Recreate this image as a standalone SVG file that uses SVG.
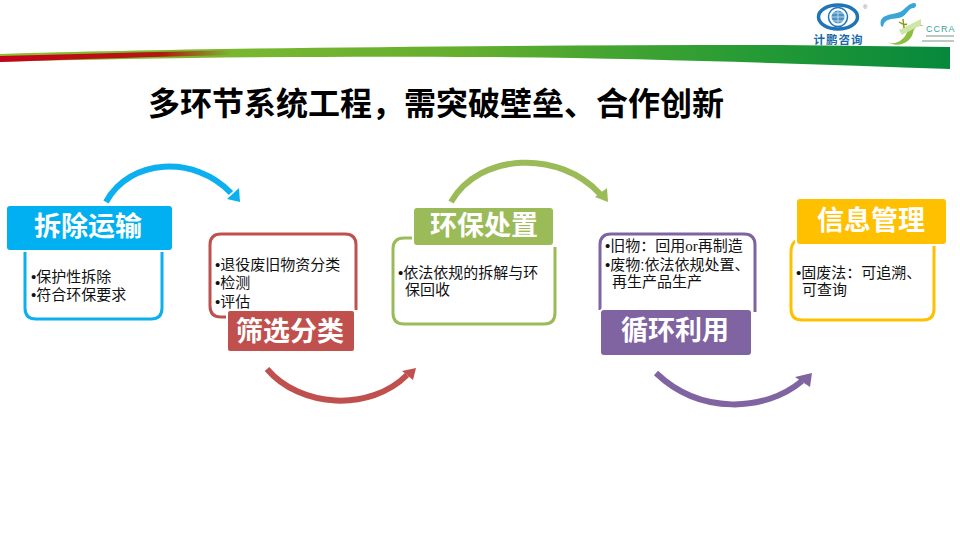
<svg xmlns="http://www.w3.org/2000/svg" width="960" height="540" viewBox="0 0 960 540">
<style>
text{font-family:"Liberation Sans","Noto Sans CJK SC",sans-serif}
.t{font-size:32px;font-weight:700;fill:#000;font-family:"Noto Sans CJK SC",sans-serif}
.h{font-size:27px;font-weight:700;fill:#fff;text-anchor:middle;font-family:"Noto Sans CJK SC",sans-serif}
.b{font-size:15px;fill:#111}
.box{fill:#fff;stroke-width:3}
.hd{stroke:#fff;stroke-width:2}
.arc{fill:none;stroke-width:6}
</style>
<defs>
<linearGradient id="g" x1="0" x2="1" y1="0" y2="0"><stop offset="0" stop-color="#8fc031"/><stop offset=".5" stop-color="#62ae2e"/><stop offset=".8" stop-color="#249a35"/><stop offset="1" stop-color="#06883c"/></linearGradient>
<linearGradient id="r" x1="0" x2="1" y1="0" y2="0"><stop offset="0" stop-color="#c8001e"/><stop offset=".7" stop-color="#b01a10"/><stop offset="1" stop-color="#b01a10" stop-opacity="0"/></linearGradient>
</defs>
<g id="banner">
<path d="M0 54C200 48 500 45 780 45L950 47V69C800 64 650 58 480 57C300 56 150 58 0 62Z" fill="url(#g)"/>
<path d="M0 56C80 54 150 52 232 50.500V55C150 57 80 59 0 62Z" fill="url(#r)"/>
</g>
<g id="logo-jipeng">
<ellipse cx="838" cy="17" rx="19.500" ry="12" fill="none" stroke="#1f74b6" stroke-width="3.500"/>
<circle cx="838" cy="17" r="9.500" fill="none" stroke="#1f74b6" stroke-width="1.500"/>
<circle cx="838" cy="17" r="6.500" fill="#4a93c8"/>
<path d="M831.500 17H844.500M838 10.500V23.500M833 13H843M833 21H843" stroke="#fff" stroke-width=".6" fill="none"/>
<text x="863" y="9" font-size="6" fill="#777">®</text>
<text x="838.500" y="44" font-size="11.500" font-weight="700" fill="#1a6aa8" text-anchor="middle" letter-spacing="1" style="font-family:'Noto Sans CJK SC',sans-serif">计鹏咨询</text>
</g>
<g id="logo-ccra">
<path d="M881 26C878 14 892 15 900 12C906 9 908 3 915 3C917 5 916 7 914 8C908 8 908 14 902 17C893 20 885 17 883 27Z" fill="#3aa6d8"/>
<path d="M888 42C895 46 905 40 908 30C910 24 918 22 924 26C918 25 914 27 913 33C910 44 896 48 888 42Z" fill="#8cbf3f"/>
<path d="M899 30L921 19V25L902 35Z" fill="#cfe6a8"/>
<path d="M899 22C902 24 905 25 907 24M903 19L904 28" stroke="#8a9a20" stroke-width="1.500" fill="none"/>
<text x="926" y="32" font-size="9" fill="#3aa6a0" letter-spacing="1">CCRA</text>
<path d="M926 36H954M922 41H954" stroke="#a8b8b0" stroke-width="1.500"/>
</g>
<text class="t" x="148" y="115">多环节系统工程，需突破壁垒、合作创新</text>
<g id="connectors">
<g id="c1"><path class="arc" stroke="#0db0ee" d="M106 202C130 158 195 155 231 193"/><path fill="#0db0ee" d="M240 202L227 199L239 188Z"/></g>
<g id="c2"><path class="arc" stroke="#c0504d" d="M267 369C300 408 370 412 407 375"/><path fill="#c0504d" d="M416 368L402 371L413 380Z"/></g>
<g id="c3"><path class="arc" stroke="#9bbb59" d="M451 202C480 152 560 150 600 194"/><path fill="#9bbb59" d="M608 202L595 197L607 188Z"/></g>
<g id="c4"><path class="arc" stroke="#8064a2" d="M656 373C700 415 765 412 802 381"/><path fill="#8064a2" d="M812 373L795 377L810 387Z"/></g>
</g>
<g id="node-1">
<path class="box" stroke="#0db0ee" d="M25 252V308Q25 319 36 319H151Q162 319 162 308V252"/>
<rect class="hd" x="6" y="205" width="167" height="46" rx="4" fill="#00b0f0"/>
<text class="h" x="88" y="236">拆除运输</text>
<text class="b" x="31" y="282">•保护性拆除</text>
<text class="b" x="31" y="300">•符合环保要求</text>
</g>
<g id="node-2">
<path class="box" stroke="#c0504d" d="M226 317H221Q210 317 210 306V245Q210 234 221 234H345Q356 234 356 245V310"/>
<rect class="hd" x="227" y="310" width="128" height="42" rx="3" fill="#c0504d"/>
<text class="h" x="290" y="341">筛选分类</text>
<text class="b" x="215" y="270">•退役废旧物资分类</text>
<text class="b" x="215" y="288">•检测</text>
<text class="b" x="215" y="307">•评估</text>
</g>
<g id="node-3">
<path class="box" stroke="#9bbb59" d="M412 238H404Q393 238 393 249V313Q393 324 404 324H544Q555 324 555 313V247"/>
<rect class="hd" x="413" y="207" width="141" height="39" rx="4" fill="#9bbb59"/>
<text class="h" x="484" y="235">环保处置</text>
<text class="b" x="398" y="278">•依法依规的拆解与环</text>
<text class="b" x="405" y="295">保回收</text>
</g>
<g id="node-4">
<path class="box" stroke="#8064a2" d="M600 310V245Q600 234 611 234H744Q755 234 755 245V312"/>
<rect class="hd" x="600" y="309" width="152" height="47" rx="4" fill="#8064a2"/>
<text class="h" x="675" y="340">循环利用</text>
<text class="b" x="605" y="251">•旧物：回用<tspan font-family="Liberation Serif">or</tspan>再制造</text>
<text class="b" x="605" y="270">•废物:依法依规处置、</text>
<text class="b" x="612" y="287">再生产品生产</text>
</g>
<g id="node-5">
<path class="box" stroke="#ffc000" d="M797 240Q791 243 791 252V309Q791 320 802 320H923Q934 320 934 309V246"/>
<rect class="hd" x="796" y="198" width="151" height="47" rx="4" fill="#ffc000"/>
<text class="h" x="871" y="230">信息管理</text>
<text class="b" x="796" y="278">•固废法：可追溯、</text>
<text class="b" x="802" y="295">可查询</text>
</g>
</svg>
